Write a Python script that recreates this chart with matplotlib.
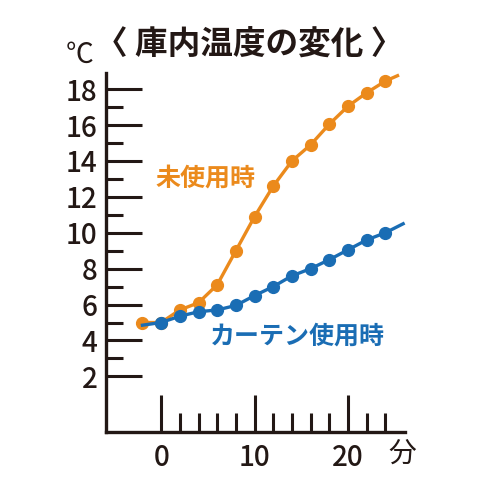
import matplotlib
matplotlib.use("Agg")
import matplotlib.pyplot as plt

plt.rcParams['font.family'] = ['Noto Sans CJK JP', 'DejaVu Sans']

# data (minutes, deg C)
minutes_plain = [-2, 0, 2, 4, 6, 8, 10, 12, 14, 16, 18, 20, 22, 24, 25.3]
temp_plain = [5.0, 5.0, 5.7, 6.1, 7.1, 9.0, 10.9, 12.6, 14.0, 14.9, 16.05, 17.05, 17.8, 18.45, 18.75]
minutes_curtain = [-2, 0, 2, 4, 6, 8, 10, 12, 14, 16, 18, 20, 22, 24, 25.9]
temp_curtain = [4.85, 5.0, 5.35, 5.6, 5.7, 5.95, 6.5, 7.0, 7.6, 8.0, 8.5, 9.05, 9.6, 10.0, 10.5]

x_major = [0, 10, 20]
x_minor = [2, 4, 6, 8, 12, 14, 16, 18, 22, 24]
y_major = [2, 4, 6, 8, 10, 12, 14, 16, 18]
y_minor = [3, 5, 7, 9, 11, 13, 15, 17]

orange = '#EB8A1C'
blue = '#1A6DB4'
ink = '#231815'

W = H = 480
fig = plt.figure(figsize=(4.8, 4.8), dpi=100)
# axes box in pixels: left 106, right 405, top 73, bottom 432
ax = fig.add_axes([106 / W, 1 - 432 / H, (405 - 106) / W, (432 - 73) / H])
ax.set_xlim(-5.9, 26.1)
ax.set_ylim(-1.1, 18.9)

ax.plot(minutes_plain, temp_plain, color=orange, lw=2.4, marker='o', ms=8.5,
        markevery=list(range(0, len(minutes_plain) - 1)), zorder=3, clip_on=False)
ax.plot(minutes_curtain, temp_curtain, color=blue, lw=2.4, marker='o', ms=8.5,
        markevery=list(range(1, len(minutes_curtain) - 1)), zorder=4, clip_on=False)

for s in ['top', 'right']:
    ax.spines[s].set_visible(False)
for s in ['left', 'bottom']:
    ax.spines[s].set_linewidth(2.4)
    ax.spines[s].set_color(ink)

ax.set_xticks(x_major)
ax.set_xticks(x_minor, minor=True)
ax.set_yticks(y_major)
ax.set_yticks(y_minor, minor=True)
ax.tick_params(which='both', direction='in', width=2.2, color=ink,
               labelsize=20, labelcolor=ink)
ax.tick_params(axis='x', which='major', length=27, pad=8)
ax.tick_params(axis='x', which='minor', length=13.5)
ax.tick_params(axis='y', which='major', length=26, pad=6)
ax.tick_params(axis='y', which='minor', length=12.5)
for lab in ax.get_xticklabels() + ax.get_yticklabels():
    lab.set_fontweight('medium')

ax.text(4.8, 13.0, '未使用時', color=orange, fontsize=18, fontweight='bold',
        ha='center', va='center')
ax.text(14.6, 4.2, 'カーテン使用時', color=blue, fontsize=18, fontweight='bold',
        ha='center', va='center')

fig.text(249 / W, 1 - 45 / H, '〈 庫内温度の変化 〉', fontsize=23.5, fontweight='bold',
         color=ink, ha='center', va='center')
fig.text(80 / W, 1 - 55 / H, '℃', fontsize=20, color=ink, ha='center', va='center')
fig.text(402 / W, 1 - 454 / H, '分', fontsize=20, color=ink, ha='center', va='center')

fig.savefig('out.png', dpi=100, facecolor='white')
